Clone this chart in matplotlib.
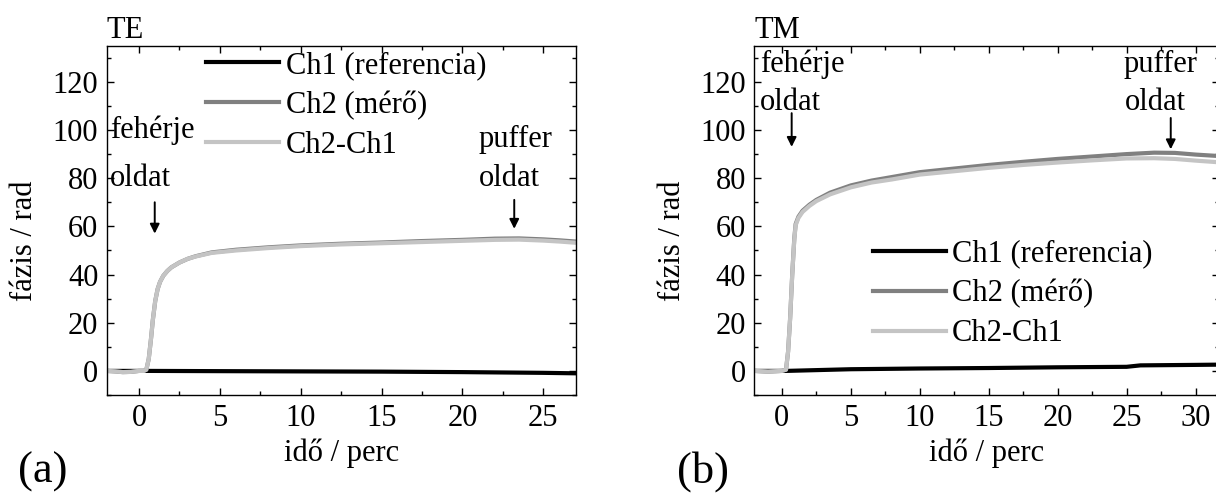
import matplotlib
matplotlib.use("Agg")
import matplotlib.pyplot as plt
from matplotlib.ticker import MultipleLocator

plt.rcParams['font.family'] = ['Liberation Serif', 'DejaVu Serif']

# TE panel data (time in minutes, phase in rad)
te_t_ch1 = [-2, 0, 0.5, 5, 10, 15, 20, 25, 27]
te_ch1 = [0, 0, 0, -0.1, -0.2, -0.3, -0.5, -0.8, -1.0]

te_t = [-2, -1.5, -1, -0.5, 0, 0.3, 0.45, 0.6, 0.75, 0.85, 1.0, 1.15, 1.3, 1.5,
        1.75, 2.0, 2.5, 3.0, 3.5, 4.5, 6, 8, 10, 12.5, 15, 17.5, 20, 22, 23.5,
        25, 26, 27]
te_ch2 = [0, -0.2, -0.5, -0.4, 0, 0, 0.5, 5, 14, 21, 29, 34, 37, 39.5,
          41.5, 43, 45, 46.5, 47.6, 49.2, 50.3, 51.3, 52.1, 52.8, 53.3, 53.9, 54.4, 54.9, 55.0,
          54.6, 54.2, 53.7]
te_diff = [0, -0.2, -0.5, -0.4, 0, 0, 0.5, 5, 14, 21, 29, 34, 37, 39.5,
           41.5, 43, 45, 46.5, 47.5, 49, 50, 51, 51.8, 52.5, 53, 53.5, 54, 54.4, 54.5,
           54.1, 53.7, 53.2]

# TM panel data
tm_t_ch1 = [-2, 0, 0.3, 5, 10, 15, 20, 25, 25.5, 26, 30, 31.7]
tm_ch1 = [0, 0, 0, 0.7, 1.0, 1.2, 1.5, 1.7, 2.0, 2.3, 2.5, 2.6]

tm_t = [-2, -1, 0, 0.3, 0.45, 0.6, 0.75, 0.9, 1.0, 1.2, 1.5, 2.0, 2.5, 3.5, 5,
        6.5, 8, 10, 12.5, 15, 17.5, 20, 22.5, 25, 27, 28.5, 30, 31.7]
tm_ch2 = [0, -0.3, 0, 0.5, 8, 22, 40, 55, 61, 64, 66.5, 69, 71, 74, 77,
          79, 80.5, 82.5, 84, 85.5, 86.8, 88, 89, 90, 90.6, 90.5, 89.8, 89.2]
tm_diff = [0, -0.3, 0, 0.5, 8, 22, 40, 54.5, 60.5, 63.5, 66, 68.5, 70.5, 73.3, 76.2,
           78.2, 79.5, 81.5, 82.9, 84.3, 85.5, 86.5, 87.4, 88.2, 88.3, 88.0, 87.3, 86.6]

labels = ['Ch1 (referencia)', 'Ch2 (mérő)', 'Ch2-Ch1']
colors = ['black', '#808080', '#c4c4c4']
fs = 22
lw = 3

W, H = 1216, 497
fig = plt.figure(figsize=(W / 100, H / 100), dpi=100)
ax1 = fig.add_axes([106.7 / W, 102 / H, 469 / W, 349.3 / H])
ax2 = fig.add_axes([754.3 / W, 102 / H, 464.7 / W, 349.3 / H])


def style(ax, xmax, title):
    ax.set_xlim(-2, xmax)
    ax.set_ylim(-10, 135)
    ax.xaxis.set_major_locator(MultipleLocator(5))
    ax.xaxis.set_minor_locator(MultipleLocator(2.5))
    ax.yaxis.set_major_locator(MultipleLocator(20))
    ax.yaxis.set_minor_locator(MultipleLocator(10))
    ax.tick_params(which='both', direction='in', top=True, right=True, width=1)
    ax.tick_params(which='major', length=5)
    ax.tick_params(which='minor', length=2.6)
    ax.tick_params(axis='x', labelsize=fs, pad=6.5)
    ax.tick_params(axis='y', labelsize=fs, pad=6)
    for s in ax.spines.values():
        s.set_linewidth(1)
    ax.set_xlabel('idő / perc', fontsize=fs)
    ax.set_ylabel('fázis / rad', fontsize=fs)
    ax.xaxis.set_label_coords(0.5, -0.125)
    ax.yaxis.set_label_coords(-0.145, 0.441)
    ax.set_title(title, loc='left', fontsize=fs, pad=5.5)


legend_kw = dict(loc='upper left', frameon=False, fontsize=fs, handlelength=2.4,
                 handletextpad=0.2, labelspacing=0.35, borderpad=0,
                 borderaxespad=0)
arrow = dict(arrowstyle='-|>', color='black', lw=1.4, mutation_scale=14,
             shrinkA=0, shrinkB=0)

# TE
ax1.plot(te_t_ch1, te_ch1, color=colors[0], lw=lw, label=labels[0])
ax1.plot(te_t, te_ch2, color=colors[1], lw=lw, label=labels[1])
ax1.plot(te_t, te_diff, color=colors[2], lw=lw, label=labels[2])
style(ax1, 27, 'TE')
ax1.legend(bbox_to_anchor=(0.212, 0.985), **legend_kw)
ax1.text(-1.8, 100, 'fehérje', fontsize=fs, va='center', ha='left')
ax1.text(-1.8, 80, 'oldat', fontsize=fs, va='center', ha='left')
ax1.text(21.0, 96, 'puffer', fontsize=fs, va='center', ha='left')
ax1.text(21.0, 80, 'oldat', fontsize=fs, va='center', ha='left')
ax1.annotate('', xy=(0.97, 57), xytext=(0.97, 70), arrowprops=arrow)
ax1.annotate('', xy=(23.2, 59), xytext=(23.2, 71), arrowprops=arrow)

# TM
ax2.plot(tm_t_ch1, tm_ch1, color=colors[0], lw=lw, label=labels[0])
ax2.plot(tm_t, tm_ch2, color=colors[1], lw=lw, label=labels[1])
ax2.plot(tm_t, tm_diff, color=colors[2], lw=lw, label=labels[2])
style(ax2, 31.7, 'TM')
ax2.legend(bbox_to_anchor=(0.255, 0.445), **legend_kw)
ax2.text(-1.56, 127.4, 'fehérje', fontsize=fs, va='center', ha='left')
ax2.text(-1.56, 111.3, 'oldat', fontsize=fs, va='center', ha='left')
ax2.text(24.8, 127.4, 'puffer', fontsize=fs, va='center', ha='left')
ax2.text(24.9, 111.3, 'oldat', fontsize=fs, va='center', ha='left')
ax2.annotate('', xy=(0.71, 93), xytext=(0.71, 107), arrowprops=arrow)
ax2.annotate('', xy=(28.2, 92), xytext=(28.2, 105), arrowprops=arrow)

fig.text(18 / W, 1 - 472 / H, '(a)', fontsize=32, va='center', ha='left')
fig.text(677 / W, 1 - 472 / H, '(b)', fontsize=32, va='center', ha='left')

fig.savefig('out.png', dpi=100)
